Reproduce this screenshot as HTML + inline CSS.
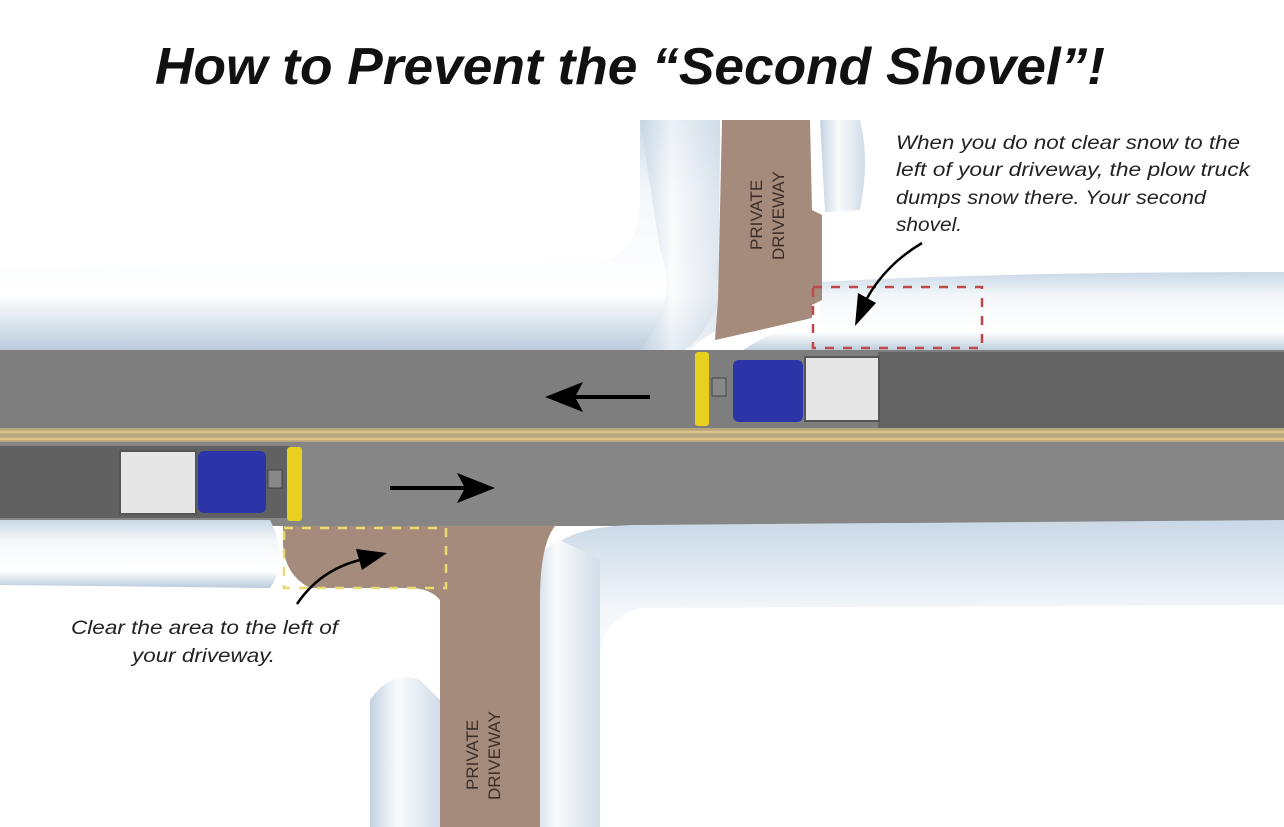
<!DOCTYPE html>
<html><head><style>
html,body{margin:0;padding:0;background:#fff;}
svg{display:block;}
text{font-family:"Liberation Sans",sans-serif;}
</style></head><body>
<svg width="1284" height="827" viewBox="0 0 1284 827" xmlns="http://www.w3.org/2000/svg">
<defs>
<linearGradient id="snow" x1="0" y1="0" x2="0" y2="1">
<stop offset="0" stop-color="#c9d8e6"/><stop offset="0.3" stop-color="#f4f7fa"/><stop offset="0.75" stop-color="#ffffff"/><stop offset="1" stop-color="#b8cadb"/>
</linearGradient>
<linearGradient id="snowv" x1="0" y1="0" x2="1" y2="0">
<stop offset="0" stop-color="#c3d3e2"/><stop offset="0.4" stop-color="#fafbfc"/><stop offset="1" stop-color="#d0dce8"/>
</linearGradient>
</defs>
<rect width="1284" height="827" fill="#fff"/>
<text x="630" y="84" text-anchor="middle" font-size="52" font-weight="bold" font-style="italic" fill="#111" textLength="950" lengthAdjust="spacingAndGlyphs">How to Prevent the “Second Shovel”!</text>

<!-- upper snow -->
<path d="M0 268 Q300 262 600 262 Q640 250 640 200 L640 120 L720 120 L720 300 Q700 345 680 352 L0 352 Z" fill="url(#snow)"/>
<path d="M640 120 L720 120 L718 330 Q700 340 690 350 L640 350 Q680 300 660 250 Z" fill="url(#snowv)" opacity="0.7"/>
<path d="M820 120 L860 120 Q870 160 860 210 L825 212 Z" fill="url(#snowv)"/>
<path d="M820 282 Q1000 272 1284 272 L1284 352 L740 352 Q780 325 820 318 Z" fill="url(#snow)"/>
<!-- upper driveway -->
<path d="M722 120 L810 120 L812 210 L822 215 L822 300 L812 305 L812 318 Q760 330 715 340 L718 300 Z" fill="#a58b7c"/>
<text transform="translate(762 250) rotate(-90)" font-size="17" fill="#3b2e28">PRIVATE</text>
<text transform="translate(784 260) rotate(-90)" font-size="17" fill="#3b2e28">DRIVEWAY</text>

<!-- road -->
<rect x="0" y="350" width="1284" height="80" fill="#7e7e7e"/>
<rect x="878" y="352" width="406" height="76" fill="#636363"/>
<rect x="0" y="428" width="1284" height="14" fill="#b8a77e"/>
<line x1="0" y1="432" x2="1284" y2="432" stroke="#dcc488" stroke-width="2.5"/>
<line x1="0" y1="439" x2="1284" y2="439" stroke="#dcc488" stroke-width="2.5"/>
<rect x="0" y="442" width="1284" height="84" fill="#868686"/>
<rect x="0" y="446" width="290" height="72" fill="#616161"/>

<!-- lower snow -->
<path d="M0 520 L270 520 Q290 560 270 588 L0 585 Z" fill="url(#snow)"/>
<path d="M555 545 Q580 525 640 525 L1284 520 L1284 605 L640 608 Q600 620 600 660 L600 827 L530 827 L530 600 Z" fill="url(#snow)"/>
<path d="M530 600 Q520 560 560 540 L600 560 L600 827 L530 827 Z" fill="url(#snowv)"/>
<path d="M370 700 Q390 670 420 680 L440 700 L440 827 L370 827 Z" fill="url(#snowv)"/>
<!-- lower driveway & cleared -->
<path d="M283 526 L555 526 Q540 545 540 600 L540 827 L440 827 L440 600 Q430 588 410 588 L310 588 Q285 575 283 545 Z" fill="#a58b7c"/>
<text transform="translate(478 790) rotate(-90)" font-size="17" fill="#3b2e28">PRIVATE</text>
<text transform="translate(500 800) rotate(-90)" font-size="17" fill="#3b2e28">DRIVEWAY</text>

<!-- dashed boxes -->
<rect x="813" y="287" width="169" height="61" fill="none" stroke="#c04848" stroke-width="2.5" stroke-dasharray="9 9"/>
<rect x="284" y="528" width="162" height="60" fill="none" stroke="#e8dc70" stroke-width="2.5" stroke-dasharray="9 9"/>

<!-- upper truck -->
<rect x="695" y="352" width="14" height="74" rx="3" fill="#e8d020"/>
<rect x="712" y="378" width="14" height="18" fill="#888" stroke="#444"/>
<rect x="733" y="360" width="70" height="62" rx="6" fill="#2b35a8"/>
<rect x="805" y="357" width="74" height="64" fill="#e6e6e6" stroke="#555" stroke-width="2"/>
<!-- lower truck -->
<rect x="120" y="451" width="76" height="63" fill="#e6e6e6" stroke="#555" stroke-width="2"/>
<rect x="198" y="451" width="68" height="62" rx="6" fill="#2b35a8"/>
<rect x="268" y="470" width="14" height="18" fill="#888" stroke="#444"/>
<rect x="287" y="447" width="15" height="74" rx="3" fill="#e8d020"/>

<!-- direction arrows -->
<line x1="650" y1="397" x2="575" y2="397" stroke="#000" stroke-width="4"/>
<polygon points="545,397 583,382 575,397 583,412" fill="#000"/>
<line x1="390" y1="488" x2="465" y2="488" stroke="#000" stroke-width="4"/>
<polygon points="495,488 457,473 465,488 457,503" fill="#000"/>

<!-- callout arrows -->
<path d="M922 243 Q885 265 866 300" fill="none" stroke="#000" stroke-width="2.5"/>
<polygon points="855,326 858,293 876,303" fill="#000"/>
<path d="M297 604 Q320 570 360 560" fill="none" stroke="#000" stroke-width="2.5"/>
<polygon points="387,553 356,549 362,570" fill="#000"/>

<!-- texts -->
<g font-size="19" font-style="italic" fill="#222" lengthAdjust="spacingAndGlyphs">
<text x="896" y="149" textLength="344" lengthAdjust="spacingAndGlyphs">When you do not clear snow to the</text>
<text x="896" y="176" textLength="354" lengthAdjust="spacingAndGlyphs">left of your driveway, the plow truck</text>
<text x="896" y="204" textLength="310" lengthAdjust="spacingAndGlyphs">dumps snow there. Your second</text>
<text x="896" y="231" textLength="66" lengthAdjust="spacingAndGlyphs">shovel.</text>
<text x="71" y="634" textLength="267" lengthAdjust="spacingAndGlyphs">Clear the area to the left of</text>
<text x="132" y="662" textLength="143" lengthAdjust="spacingAndGlyphs">your driveway.</text>
</g>
</svg>
</body></html>
